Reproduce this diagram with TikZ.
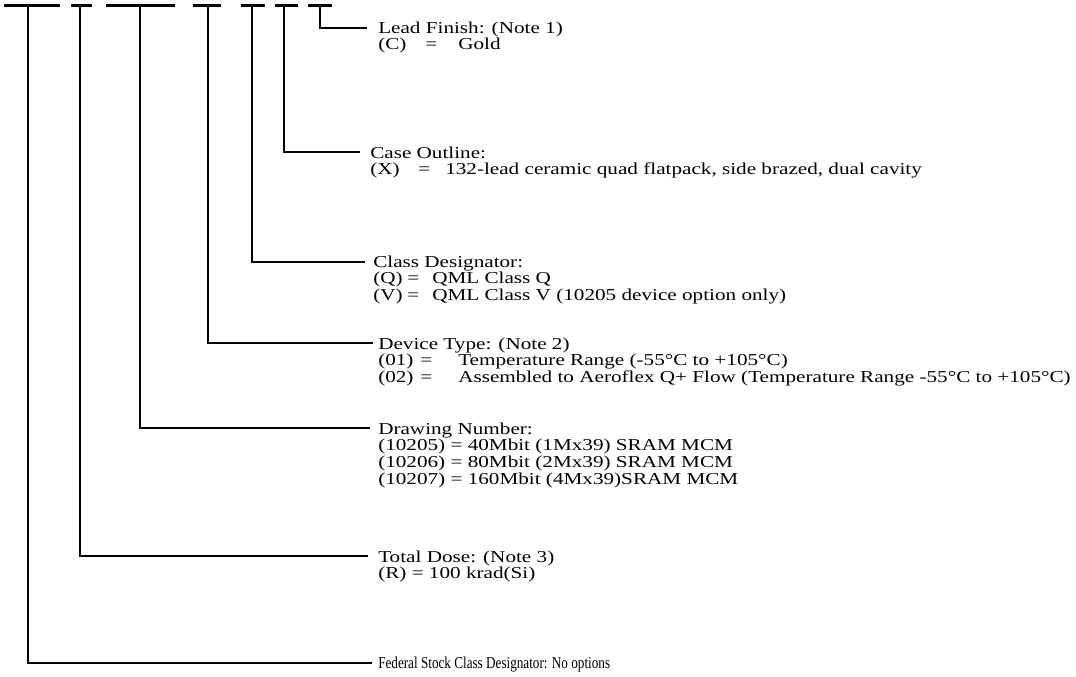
\documentclass[tikz,border=0pt]{standalone}
\usepackage{fontspec}
\setmainfont{Liberation Serif}[FakeStretch=1.27]
\newfontfamily\condfont{Liberation Serif}[FakeStretch=0.79]
\newcommand{\colA}[2]{\makebox[#1][l]{#2}}
\newcommand{\rowblock}[1]{\vtop{\baselineskip=12.5pt\lineskiplimit=-50pt\lineskip=0pt #1}}
\newcommand{\rowline}[1]{\hbox{#1}}
\begin{document}
\begin{tikzpicture}[x=0.75pt,y=-0.75pt,
  bar/.style={line width=2.25pt},
  leader/.style={line width=1.5pt, line join=miter},
  lbl/.style={anchor=base west, inner sep=0pt, font=\fontsize{12.5}{12.5}\selectfont}]
\useasboundingbox (0,0) rectangle (1076,676);
% top bars
\draw[bar] (4,5) -- (60,5);
\draw[bar] (71,5) -- (92,5);
\draw[bar] (106,5) -- (175,5);
\draw[bar] (193,5) -- (221,5);
\draw[bar] (241,5) -- (265,5);
\draw[bar] (275,5) -- (298,5);
\draw[bar] (308,5) -- (332,5);
% bar centres
\coordinate (b1) at (28,5);
\coordinate (b2) at (80,5);
\coordinate (b3) at (140,5);
\coordinate (b4) at (208,5);
\coordinate (b5) at (252,5);
\coordinate (b6) at (284,5);
\coordinate (b7) at (320,5);
% leader ends
\coordinate (e7) at (367,28);
\coordinate (e6) at (360,152);
\coordinate (e5) at (365,262);
\coordinate (e4) at (373,343);
\coordinate (e3) at (370,428);
\coordinate (e2) at (368,556);
\coordinate (e1) at (372,663);
% labels
\node[lbl] (l7) at (378,33) {\rowblock{%
\rowline{Lead Finish: (Note 1)}
\rowline{\colA{35.25pt}{(C)}\colA{24.75pt}{=}Gold}}};
\node[lbl] (l6) at (370,158) {\rowblock{%
\rowline{Case Outline:}
\rowline{\colA{36pt}{(X)}\colA{20.25pt}{=}132-lead ceramic quad flatpack, side brazed, dual cavity}}};
\node[lbl] (l5) at (373,267) {\rowblock{%
\rowline{Class Designator:}
\rowline{\colA{25.5pt}{(Q)}\colA{18.75pt}{=}QML Class Q}
\rowline{\colA{25.5pt}{(V)}\colA{18.75pt}{=}QML Class V (10205 device option only)}}};
\node[lbl] (l4) at (378,349) {\rowblock{%
\rowline{Device Type: (Note 2)}
\rowline{\colA{31.5pt}{(01)}\colA{28.5pt}{=}Temperature Range (-55°C to +105°C)}
\rowline{\colA{31.5pt}{(02)}\colA{28.5pt}{=}Assembled to Aeroflex Q+ Flow (Temperature Range -55°C to +105°C)}}};
\node[lbl] (l3) at (378,434) {\rowblock{%
\rowline{Drawing Number:}
\rowline{(10205) = 40Mbit (1Mx39) SRAM MCM}
\rowline{(10206) = 80Mbit (2Mx39) SRAM MCM}
\rowline{(10207) = 160Mbit (4Mx39)SRAM MCM}}};
\node[lbl] (l2) at (378,562) {\rowblock{%
\rowline{Total Dose: (Note 3)}
\rowline{(R) = 100 krad(Si)}}};
\node[lbl] (l1) at (378,668) {\condfont Federal Stock Class Designator: No options};
% leaders
\draw[leader] (b1) |- (e1);
\draw[leader] (b2) |- (e2);
\draw[leader] (b3) |- (e3);
\draw[leader] (b4) |- (e4);
\draw[leader] (b5) |- (e5);
\draw[leader] (b6) |- (e6);
\draw[leader] (b7) |- (e7);
\end{tikzpicture}
\end{document}
